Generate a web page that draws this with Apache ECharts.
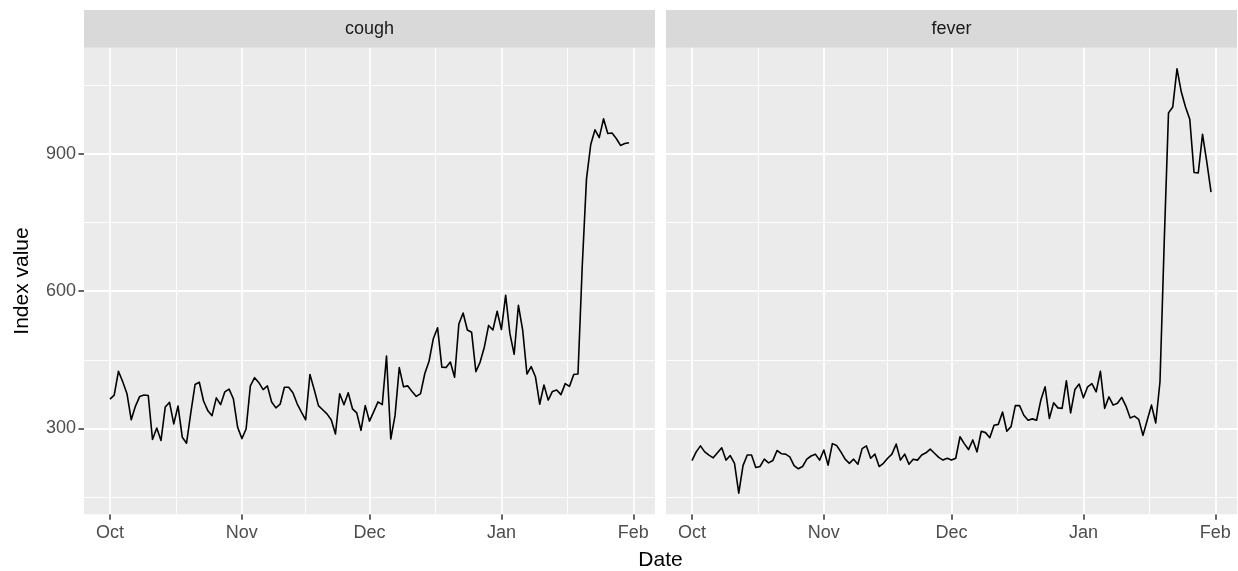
<!DOCTYPE html>
<html>
<head>
<meta charset="utf-8">
<script src="https://cdn.jsdelivr.net/npm/echarts@6/dist/echarts.min.js"></script>
<style>
html,body{margin:0;padding:0;background:#fff;}
#chart{width:1238px;height:571px;}
</style>
</head>
<body>
<div id="chart"></div>
<script>
// ---- data ----
const startDate = '2023-10-01';
const panelNames = ['cough', 'fever'];
const monthTickDates = ['2023-10-01', '2023-11-01', '2023-12-01', '2024-01-01', '2024-02-01'];
const monthTickLabels = ['Oct', 'Nov', 'Dec', 'Jan', 'Feb'];
const yTickValues = [300, 600, 900];

const cough = [364,373,425,402,376,319,349,370,373,372,
  276,301,274,347,357,310,349,281,268,334,
  396,401,360,339,328,367,352,380,386,365,
  303,278,299,393,411,400,385,393,358,345,
  353,390,390,378,354,336,319,418,385,350,
  341,332,319,288,376,352,378,343,334,296,
  350,316,337,358,352,458,277,328,433,391,
  393,381,370,376,420,447,496,520,434,433,
  445,412,528,552,515,510,424,445,478,525,
  515,556,516,591,507,462,569,515,419,435,
  413,353,395,362,381,384,374,398,392,418,
  419,654,845,920,952,935,976,944,945,933,
  918,922,924];

const fever = [230,249,262,249,242,236,247,258,231,241,
  224,159,219,242,242,215,217,233,225,230,
  252,245,244,238,219,212,217,233,240,244,
  231,253,220,267,263,249,233,224,233,222,
  256,262,235,244,217,224,235,244,266,231,
  244,222,233,231,242,247,255,246,237,231,
  235,231,235,282,267,254,275,249,294,291,
  280,307,309,336,294,304,350,350,329,318,
  321,318,362,391,322,356,345,344,404,334,
  385,397,367,391,398,380,425,344,369,351,
  355,368,349,323,327,320,285,318,351,312,
  402,708,989,1002,1085,1035,1002,975,859,858,
  942,882,816];

// ---- derived ----
const DAY = 86400000;
const dayOf = s => (Date.parse(s) - Date.parse(startDate)) / DAY;
const xTicks = monthTickDates.map(dayOf);
const xMinor = [];
for (let i = 0; i < xTicks.length - 1; i++) xMinor.push((xTicks[i] + xTicks[i + 1]) / 2);
const nDays = cough.length - 1;
const xMin = -0.05 * nDays, xMax = nDays * 1.05;
const allVals = cough.concat(fever);
const vMin = Math.min(...allVals), vMax = Math.max(...allVals);
const yMin = vMin - 0.05 * (vMax - vMin), yMax = vMax + 0.05 * (vMax - vMin);
const yStep = yTickValues[1] - yTickValues[0];
const yMinor = [];
for (let v = yTickValues[0] - yStep / 2; v <= yMax; v += yStep) if (v >= yMin) yMinor.push(v);

const seriesData = [cough, fever].map(arr => arr.map((v, i) => [i, v]));

// ---- layout ----
const G = [{left: 84, top: 47.7, width: 571, height: 466.6},
           {left: 666, top: 47.7, width: 571, height: 466.6}];
const stripTop = 10;
const FONT = "'Liberation Sans', Arial, Helvetica, sans-serif";

const chart = echarts.init(document.getElementById('chart'), null, {renderer: 'canvas'});

const grids = G.map(g => ({left: g.left, top: g.top, width: g.width, height: g.height,
  show: true, backgroundColor: '#EBEBEB', borderWidth: 0, containLabel: false}));

const xAxes = G.map((g, k) => ({
  type: 'value', gridIndex: k, min: xMin, max: xMax, position: 'bottom',
  axisLine: {show: false, onZero: false}, splitLine: {show: false},
  axisTick: {show: true, length: 5.5, customValues: xTicks, lineStyle: {color: '#333333', width: 1.5}},
  axisLabel: {show: true, customValues: xTicks, margin: 10, color: '#4D4D4D', fontSize: 18, fontFamily: FONT,
    formatter: v => { const i = xTicks.indexOf(v); return i >= 0 ? monthTickLabels[i] : ''; }}
}));

const yAxes = G.map((g, k) => ({
  type: 'value', gridIndex: k, min: yMin, max: yMax, position: 'left',
  axisLine: {show: false, onZero: false}, splitLine: {show: false},
  axisTick: {show: k === 0, length: 5.5, customValues: yTickValues, lineStyle: {color: '#333333', width: 1.5}},
  axisLabel: {show: k === 0, customValues: yTickValues, margin: 8, color: '#4D4D4D', fontSize: 18, fontFamily: FONT}
}));

const series = [];
G.forEach((g, k) => {
  const ml = (arr, key, w) => arr.map(v => ({[key]: v, lineStyle: {width: w}}));
  series.push({
    type: 'line', xAxisIndex: k, yAxisIndex: k, data: seriesData[k], z: 1,
    symbol: 'none', silent: true, lineStyle: {opacity: 0}, animation: false,
    markLine: {
      silent: true, symbol: ['none', 'none'], animation: false, label: {show: false},
      lineStyle: {color: '#FFFFFF', type: 'solid'},
      emphasis: {disabled: true},
      data: [].concat(ml(xMinor, 'xAxis', 0.9), ml(yMinor, 'yAxis', 0.9),
                      ml(xTicks, 'xAxis', 1.8), ml(yTickValues, 'yAxis', 1.8))
    }
  });
  series.push({
    type: 'line', name: panelNames[k], xAxisIndex: k, yAxisIndex: k, data: seriesData[k], z: 5,
    symbol: 'none', showSymbol: false, animation: false, silent: true,
    lineStyle: {color: '#000000', width: 1.6, join: 'round'}
  });
});

const graphics = [];
G.forEach((g, k) => {
  graphics.push({type: 'rect', left: g.left, top: stripTop, silent: true,
    shape: {width: g.width, height: g.top - stripTop}, style: {fill: '#D9D9D9'}});
  graphics.push({type: 'text', x: g.left + g.width / 2, y: (stripTop + g.top) / 2, silent: true,
    style: {text: panelNames[k], fill: '#1A1A1A', font: '18px ' + FONT, align: 'center', verticalAlign: 'middle'}});
});
graphics.push({type: 'text', x: (G[0].left + G[1].left + G[1].width) / 2, y: 560, silent: true,
  style: {text: 'Date', fill: '#000000', font: '21px ' + FONT, align: 'center', verticalAlign: 'middle'}});
graphics.push({type: 'text', x: 22, y: G[0].top + G[0].height / 2, rotation: Math.PI / 2, silent: true,
  style: {text: 'Index value', fill: '#000000', font: '21px ' + FONT, align: 'center', verticalAlign: 'middle'}});

chart.setOption({
  animation: false,
  backgroundColor: '#FFFFFF',
  grid: grids, xAxis: xAxes, yAxis: yAxes, series: series,
  graphic: graphics
});
</script>
</body>
</html>
